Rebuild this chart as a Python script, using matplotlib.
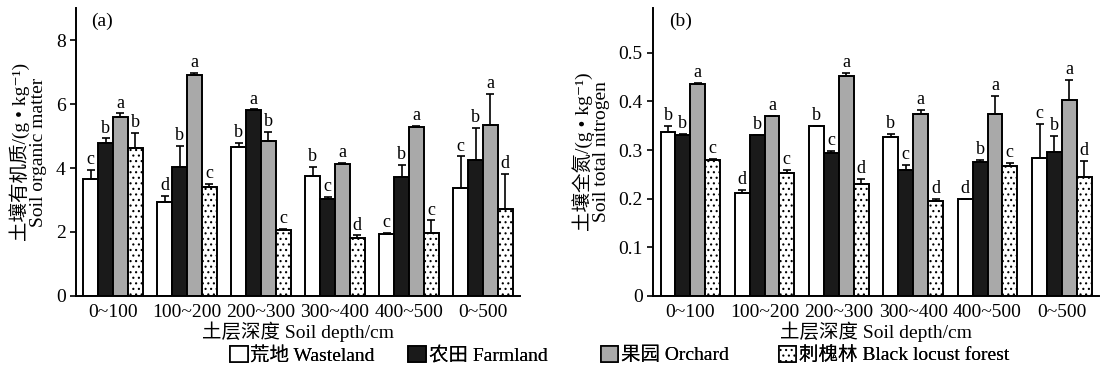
import numpy as np
import matplotlib.pyplot as plt
from matplotlib.patches import Patch

plt.rcParams['font.family'] = ['Liberation Serif', 'Noto Sans CJK SC', 'DejaVu Serif']
plt.rcParams['hatch.linewidth'] = 0.8

depths = ['0~100', '100~200', '200~300', '300~400', '400~500', '0~500']
series = ['荒地 Wasteland', '农田 Farmland', '果园 Orchard', '刺槐林 Black locust forest']

# soil organic matter (g/kg): rows = land use, cols = depth
som = [[3.66, 2.95, 4.65, 3.76, 1.95, 3.38],
       [4.79, 4.04, 5.80, 3.03, 3.73, 4.25],
       [5.60, 6.90, 4.85, 4.14, 5.29, 5.36],
       [4.63, 3.40, 2.05, 1.82, 1.98, 2.71]]
som_err = [[0.28, 0.18, 0.13, 0.28, 0.02, 0.99],
           [0.14, 0.65, 0.03, 0.07, 0.38, 1.01],
           [0.11, 0.07, 0.28, 0.03, 0.03, 0.97],
           [0.47, 0.10, 0.05, 0.08, 0.39, 1.10]]
som_sig = [['c', 'd', 'b', 'b', 'c', 'c'],
           ['b', 'b', 'a', 'c', 'b', 'b'],
           ['a', 'a', 'b', 'a', 'a', 'a'],
           ['b', 'c', 'c', 'd', 'c', 'd']]

# soil total nitrogen (g/kg)
tn = [[0.338, 0.212, 0.350, 0.326, 0.200, 0.284],
      [0.332, 0.332, 0.295, 0.260, 0.275, 0.297],
      [0.436, 0.370, 0.453, 0.375, 0.375, 0.402],
      [0.279, 0.253, 0.231, 0.196, 0.267, 0.245]]
tn_err = [[0.012, 0.006, 0.0, 0.007, 0.0, 0.069],
          [0.002, 0.0, 0.004, 0.010, 0.004, 0.032],
          [0.003, 0.0, 0.006, 0.007, 0.037, 0.042],
          [0.002, 0.007, 0.009, 0.004, 0.006, 0.032]]
tn_sig = [['b', 'd', 'b', 'b', 'd', 'c'],
          ['b', 'b', 'c', 'c', 'b', 'b'],
          ['a', 'a', 'a', 'a', 'a', 'a'],
          ['c', 'c', 'd', 'd', 'c', 'd']]

colors = ['white', '#1a1a1a', '#a9a9a9', 'white']
hatches = [None, None, None, '...']

fig = plt.figure(figsize=(11.06, 3.69), dpi=100)
ax1 = fig.add_axes([0.0687, 0.198, 0.4015, 0.780])
ax2 = fig.add_axes([0.5905, 0.198, 0.4032, 0.780])

x = np.arange(len(depths))
w = 0.2


def draw(ax, vals, errs, sigs, ylim, yticks, pad):
    for i in range(4):
        pos = x + (i - 1.5) * w
        ax.bar(pos, vals[i], w, color=colors[i], edgecolor='black', linewidth=1.4,
               hatch=hatches[i], zorder=2)
        e = np.array(errs[i])
        ax.errorbar(pos, vals[i], yerr=[np.zeros_like(e), e], fmt='none',
                    ecolor='black', elinewidth=1.2, capsize=3, capthick=1.2, zorder=3)
        for p, v, er, s in zip(pos, vals[i], e, sigs[i]):
            ax.text(p, v + er + pad, s, ha='center', va='bottom', fontsize=13)
    ax.set_xlim(-0.5, 5.5)
    ax.set_ylim(*ylim)
    ax.set_yticks(yticks)
    ax.set_xticks(x)
    ax.set_xticklabels(depths, fontsize=14)
    ax.tick_params(axis='x', length=0, pad=6)
    ax.tick_params(axis='y', direction='out', length=4, width=1.2, labelsize=14)
    for sp in ['top', 'right']:
        ax.spines[sp].set_visible(False)
    for sp in ['left', 'bottom']:
        ax.spines[sp].set_linewidth(1.4)
    ax.set_xlabel('土层深度 Soil depth/cm', fontsize=14, labelpad=0)


draw(ax1, som, som_err, som_sig, (0, 9.0), [0, 2, 4, 6, 8], 0.05)
draw(ax2, tn, tn_err, tn_sig, (0, 0.592), [0, 0.1, 0.2, 0.3, 0.4, 0.5], 0.004)
ax2.set_yticklabels(['0', '0.1', '0.2', '0.3', '0.4', '0.5'])

ax1.set_ylabel('土壤有机质/(g • kg⁻¹)\nSoil organic matter', fontsize=14,
               linespacing=1.0, labelpad=6)
ax2.set_ylabel('土壤全氮/(g • kg⁻¹)\nSoil total nitrogen', fontsize=14,
               linespacing=1.0, labelpad=6)

ax1.text(0.035, 0.985, '(a)', transform=ax1.transAxes, fontsize=14, va='top')
ax2.text(0.035, 0.985, '(b)', transform=ax2.transAxes, fontsize=14, va='top')

# legend entries placed one by one, as spaced in the original
leg_x = [0.208, 0.369, 0.543, 0.704]
for i in range(4):
    h = Patch(facecolor=colors[i], edgecolor='black', hatch=hatches[i], linewidth=1.2)
    lg = fig.legend([h], [series[i]], loc='center left', bbox_to_anchor=(leg_x[i], 0.038),
                    frameon=False, fontsize=14, handlelength=0.9, handleheight=0.9,
                    handletextpad=0.15, borderpad=0, borderaxespad=0)
    fig.add_artist(lg)

fig.savefig('out.png', dpi=100)
